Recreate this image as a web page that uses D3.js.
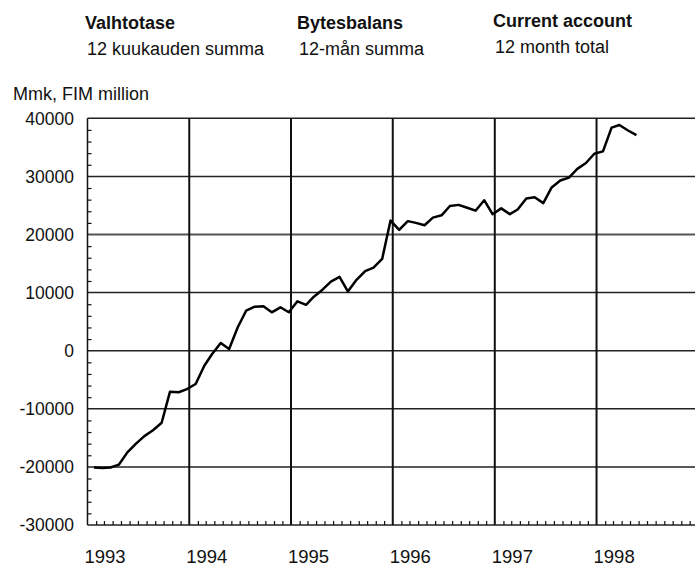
<!DOCTYPE html>
<html lang="en">
  <head>
    <meta charset="utf-8">
    <title>Current account</title>
    <script src="https://d3js.org/d3.v7.min.js"></script>
    <style>
      body { margin: 0; background: #fff; }
      svg { display: block; font-family: 'Liberation Sans', Arial, Helvetica, sans-serif; }
    </style>
  </head>
  <body>
    <script>
// 12 month total of the current account, monthly from Jan 1993 (Mmk)
const startYear = 1993
const values = [
  -20100, -20200, -20100, -19600, -17500, -16000, -14700, -13700, -12400, -7050, -7150, -6600,
  -5730, -2580, -570, 1330, 290, 4030, 6880, 7570, 7640, 6610, 7470, 6610,
  8500, 7900, 9300, 10500, 11900, 12700, 10200, 12200, 13700, 14300, 15800, 22400,
  20800, 22300, 22000, 21600, 22900, 23300, 24900, 25100, 24600, 24100, 25900, 23500,
  24500, 23500, 24300, 26200, 26400, 25400, 28100, 29300, 29800, 31300, 32300, 33900,
  34300, 38400, 38850, 37900, 37100
]

const yTicks = [-30000, -20000, -10000, 0, 10000, 20000, 30000, 40000]
const yearLabels = ['1993', '1994', '1995', '1996', '1997', '1998']

const titles = [
  { head: 'Valhtotase', sub: '12 kuukauden summa' },
  { head: 'Bytesbalans', sub: '12-mån summa' },
  { head: 'Current account', sub: '12 month total' }
]
const unitLabel = 'Mmk, FIM million'

const dimensions = {
  width: 695,
  height: 567,
  left: 87.5,
  top: 118.3,
  bottom: 525,
  yearWidth: 101.8
}

const svg = d3.select('body')
  .append('svg')
  .attr('width', dimensions.width)
  .attr('height', dimensions.height)

const dates = values.map((d, i) => new Date(startYear, i, 24))

const xScale = d3.scaleTime()
  .domain([new Date(startYear, 0, 1), new Date(startYear + 6, 0, 1)])
  .range([dimensions.left, dimensions.left + 6 * dimensions.yearWidth])

const yScale = d3.scaleLinear()
  .domain([-30000, 40000])
  .range([dimensions.bottom, dimensions.top])

const right = dimensions.width

// headers
const titleX = [85, 297, 493]
titles.forEach((t, i) => {
  svg.append('text')
    .attr('x', titleX[i])
    .attr('y', i === 2 ? 27 : 29)
    .attr('font-size', 18)
    .attr('font-weight', 'bold')
    .attr('fill', '#111')
    .text(t.head)
  svg.append('text')
    .attr('x', titleX[i] + 2)
    .attr('y', i === 2 ? 53 : 55)
    .attr('font-size', 18)
    .attr('fill', '#111')
    .text(t.sub)
})

svg.append('text')
  .attr('x', 13)
  .attr('y', 100)
  .attr('font-size', 18)
  .attr('fill', '#111')
  .text(unitLabel)

// horizontal grid
svg.append('g')
  .selectAll('line')
  .data(yTicks)
  .join('line')
  .attr('x1', dimensions.left)
  .attr('x2', right)
  .attr('y1', d => yScale(d))
  .attr('y2', d => yScale(d))
  .attr('stroke', d => d === 20000 ? '#555' : '#222')
  .attr('stroke-width', d => d === 20000 ? 2 : 1.5)

// year lines
const yearStarts = yearLabels.map(y => new Date(+y, 0, 1))
svg.append('g')
  .selectAll('line')
  .data(yearStarts)
  .join('line')
  .attr('x1', d => xScale(d))
  .attr('x2', d => xScale(d))
  .attr('y1', dimensions.top)
  .attr('y2', dimensions.bottom)
  .attr('stroke', '#111')
  .attr('stroke-width', (d, i) => i === 0 ? 1.5 : 2)

// y minor ticks, every 2000
const yMinor = d3.range(-30000, 40001, 2000).filter(v => v % 10000 !== 0)
const yAxis = d3.axisRight(yScale)
  .tickValues(yMinor)
  .tickSize(4)
  .tickFormat('')
svg.append('g')
  .attr('transform', `translate(${dimensions.left},0)`)
  .call(yAxis)
  .call(g => g.select('.domain').remove())
  .selectAll('line')
  .attr('stroke', '#111')
  .attr('stroke-width', 1.2)

// x minor ticks, monthly
const monthTicks = d3.timeMonth.range(new Date(startYear, 0, 1), new Date(startYear + 6, 0, 1))
  .filter(d => d.getMonth() !== 0)
const xAxis = d3.axisTop(xScale)
  .tickValues(monthTicks)
  .tickSize(4)
  .tickFormat('')
svg.append('g')
  .attr('transform', `translate(0,${dimensions.bottom})`)
  .call(xAxis)
  .call(g => g.select('.domain').remove())
  .selectAll('line')
  .attr('stroke', '#111')
  .attr('stroke-width', 1.2)

// y labels
svg.append('g')
  .selectAll('text')
  .data(yTicks)
  .join('text')
  .attr('x', 74)
  .attr('y', d => yScale(d))
  .attr('dy', '0.36em')
  .attr('text-anchor', 'end')
  .attr('font-size', 17.5)
  .attr('fill', '#111')
  .text(d => d)

// year labels
svg.append('g')
  .selectAll('text')
  .data(yearLabels)
  .join('text')
  .attr('x', d => xScale(new Date(+d, 0, 1)) - 3)
  .attr('y', 562.5)
  .attr('font-size', 18.5)
  .attr('fill', '#111')
  .text(d => d)

// series
const line = d3.line()
  .x((d, i) => xScale(dates[i]))
  .y(d => yScale(d))

svg.append('path')
  .datum(values)
  .attr('d', line)
  .attr('fill', 'none')
  .attr('stroke', '#000')
  .attr('stroke-width', 2.5)
  .attr('stroke-linejoin', 'round')
    </script>
  </body>
</html>
